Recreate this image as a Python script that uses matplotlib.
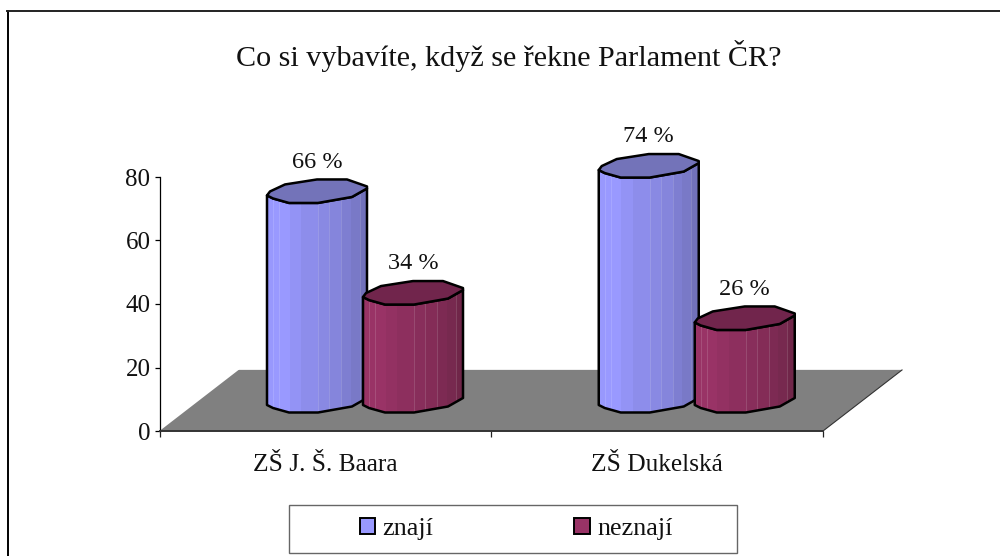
import numpy as np
import matplotlib
matplotlib.use('Agg')
import matplotlib.pyplot as plt
from matplotlib.colors import to_rgb
from matplotlib.patches import Polygon, Rectangle

plt.rcParams['font.family'] = ['Liberation Serif', 'DejaVu Serif']

# Data
title = 'Co si vybavíte, když se řekne Parlament ČR?'
categories = ['ZŠ J. Š. Baara', 'ZŠ Dukelská']
znaji = [66, 74]
neznaji = [34, 26]
series_names = ['znají', 'neznají']
yticks = [0, 20, 40, 60, 80]

# Colors
blue, blue_dark, blue_top = '#9999FF', '#6E6EB4', '#7373B9'
red, red_dark, red_top = '#993366', '#6C2547', '#71254C'
floor = '#808080'

fig = plt.figure(figsize=(10, 5.56), dpi=100)
ax = fig.add_axes([159.5 / 1000, (556 - 431) / 556, 663.5 / 1000, 254 / 556])
ax.set_xlim(0, 2)
ax.set_ylim(0, 80)

# pixels -> data units
px_x = 2 / 663.5
px_y = 80 / 254

# Floor of the 3d scene
depth_x, depth_y = 79 * px_x, 61 * px_y
ax.add_patch(Polygon([(0, 0), (2, 0), (2 + depth_x, depth_y), (depth_x, depth_y)],
                     closed=True, fc=floor, ec='none', clip_on=False, zorder=1))
ax.plot([2, 2 + depth_x], [0, depth_y], color='#333333', lw=0.8, clip_on=False, zorder=1.5)
ax.plot([depth_x, 2 + depth_x], [depth_y + 0.3, depth_y + 0.3], color='#eeeeee', lw=0.7, clip_on=False, zorder=0.9)

# Cylinder shape (x as part of width, y in pixels from the left rim point)
front_x = np.array([0, 0.06, 0.22, 0.51, 0.85, 1.0])
front_y = np.array([0, -3, -7.5, -7.5, -1.5, 7])
back_x = np.array([1.0, 0.80, 0.50, 0.18, 0.03, 0])
back_y = np.array([9, 16, 16, 11, 4, 0])
band_edges = np.array([0, 0.06, 0.12, 0.227, 0.343, 0.51, 0.62, 0.743, 0.837, 0.927, 1.0])
band_shade = np.array([0.03, 0.0, 0.0, 0.14, 0.27, 0.37, 0.47, 0.62, 0.75, 0.92])
light_lines = [0.06, 0.12, 0.51, 0.62, 0.743, 0.927]

bar_w = 100 * px_x
base = 26 * px_y


def cylinder(left, value, col, col_dark, col_top, z):
    bottom = base
    top = base + value
    xs = left + front_x * bar_w
    # body
    body = np.vstack([np.column_stack([xs, top + front_y * px_y]),
                      np.column_stack([xs[::-1], bottom + front_y[::-1] * px_y])])
    clip = Polygon(body, closed=True, transform=ax.transData)
    c0, c1 = np.array(to_rgb(col)), np.array(to_rgb(col_dark))
    rgb = np.array([[c0 + (c1 - c0) * s for s in band_shade]])
    mesh = ax.pcolormesh(left + band_edges * bar_w, [bottom - 10 * px_y, top + 12 * px_y], rgb,
                         shading='flat', zorder=z, antialiased=False)
    mesh.set_clip_box(None)
    mesh.set_clip_path(clip)
    for f in light_lines:
        ln = ax.plot([left + f * bar_w] * 2, [bottom - 10 * px_y, top + 12 * px_y],
                     color='white', lw=0.7, alpha=0.14, zorder=z + 0.1)[0]
        ln.set_clip_box(None)
        ln.set_clip_path(clip)
    ax.add_patch(Polygon(body, closed=True, fc='none', ec='black', lw=1.8, joinstyle='round',
                         clip_on=False, zorder=z + 0.2))
    # top face
    face = np.vstack([np.column_stack([xs, top + front_y * px_y]),
                      np.column_stack([left + back_x * bar_w, top + back_y * px_y])])
    ax.add_patch(Polygon(face, closed=True, fc=col_top, ec='black', lw=1.8, joinstyle='round',
                         clip_on=False, zorder=z + 0.3))
    ax.annotate(f'{value} %', (left + 0.5 * bar_w, top), xytext=(0, 27 / 1.389 + 0.5),
                textcoords='offset points', ha='center', va='baseline', fontsize=17.5,
                color='#111111', annotation_clip=False, zorder=z + 0.4)


for i in range(len(categories)):
    cylinder(i + 107.5 * px_x, znaji[i], blue, blue_dark, blue_top, 2 + i)
    cylinder(i + 203.5 * px_x, neznaji[i], red, red_dark, red_top, 2.5 + i)

# Axes
ax.set_xticks([0, 1, 2])
ax.set_xticklabels([])
ax.set_xticks([0.5, 1.5], categories, minor=True)
ax.set_yticks(yticks)
ax.patch.set_visible(False)
for s in ['top', 'right']:
    ax.spines[s].set_visible(False)
ax.spines['left'].set_linewidth(0.9)
ax.spines['bottom'].set_linewidth(1.4)
ax.spines['bottom'].set_color('#333333')
ax.tick_params(axis='x', which='major', length=4.5, width=0.9, color='#222222')
ax.tick_params(axis='x', which='minor', length=0, pad=16.5, labelsize=18.3, labelcolor='#111111')
ax.tick_params(axis='y', length=3.5, width=0.9, pad=3, labelsize=18, labelcolor='#111111')
ax.spines['left'].set_zorder(1.6)
ax.spines['bottom'].set_zorder(1.6)

fig.text(509 / 1000, 1 - 66 / 556, title, ha='center', va='baseline', fontsize=21.7, color='#111111')

# Chart frame: left and top only, the picture is cut off on the other sides
fig.add_artist(plt.Line2D([7.5 / 1000, 7.5 / 1000], [0, 1 - 11 / 556], color='black', lw=1.4))
fig.add_artist(plt.Line2D([7 / 1000, 1], [1 - 11 / 556, 1 - 11 / 556], color='#222222', lw=1.4))

# Legend
fig.add_artist(Rectangle((289 / 1000, 1 - 552.5 / 556), 448 / 1000, 47.5 / 556, transform=fig.transFigure,
                         fc='white', ec='#666666', lw=1.0))
handles = [Rectangle((0, 0), 1, 1, fc=blue, ec='black', lw=1.4),
           Rectangle((0, 0), 1, 1, fc=red, ec='black', lw=1.4)]
fig.legend(handles, series_names, ncol=2, frameon=False, loc='center',
           bbox_to_anchor=(516 / 1000, 1 - 529 / 556), fontsize=18.8, handlelength=0.6, handleheight=0.6,
           handletextpad=0.27, columnspacing=5.4, labelcolor='#111111')

fig.savefig('out.png', dpi=100)
